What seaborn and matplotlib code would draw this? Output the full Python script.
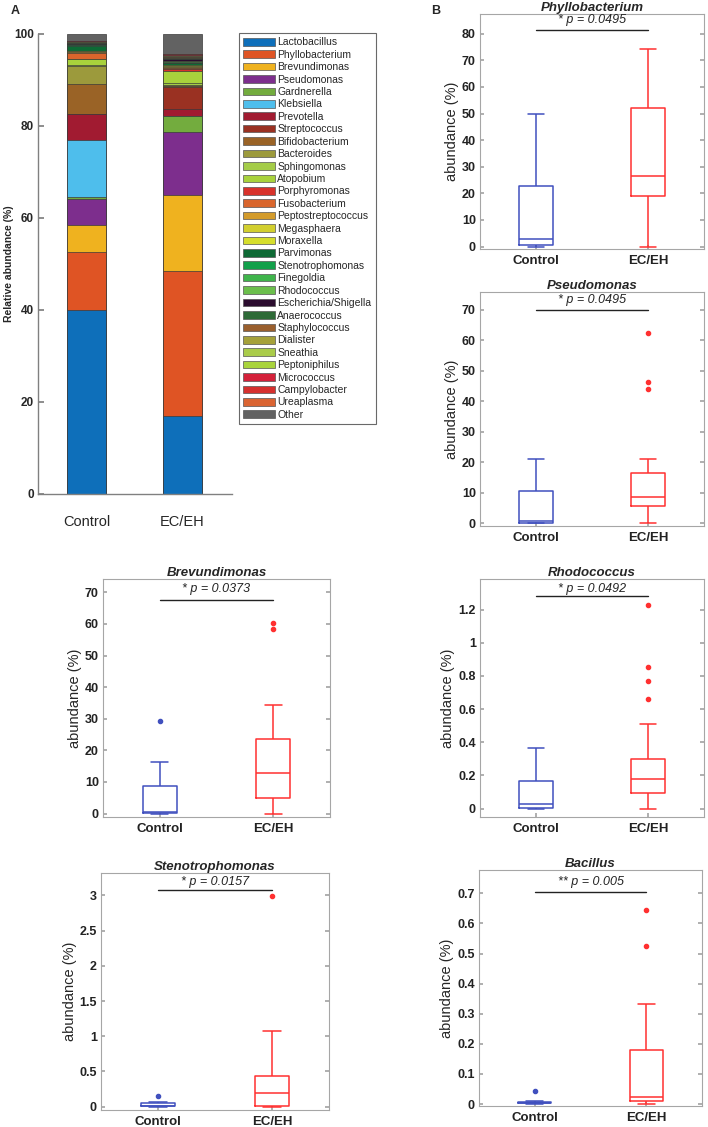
import numpy as np
import pandas as pd
import seaborn as sns
import matplotlib.pyplot as plt
from matplotlib.patches import Patch
from matplotlib.ticker import FuncFormatter

groups = ["Control", "EC/EH"]

genera = ["Lactobacillus", "Phyllobacterium", "Brevundimonas", "Pseudomonas",
          "Gardnerella", "Klebsiella", "Prevotella", "Streptococcus",
          "Bifidobacterium", "Bacteroides", "Sphingomonas", "Atopobium",
          "Porphyromonas", "Fusobacterium", "Peptostreptococcus", "Megasphaera",
          "Moraxella", "Parvimonas", "Stenotrophomonas", "Finegoldia",
          "Rhodococcus", "Escherichia/Shigella", "Anaerococcus", "Staphylococcus",
          "Dialister", "Sneathia", "Peptoniphilus", "Micrococcus",
          "Campylobacter", "Ureaplasma", "Other"]

genus_colors = ["#0E6FBA", "#DF5424", "#EFB21F", "#7D2E8D", "#73AC3E",
                "#4EBEEC", "#A11B31", "#9A3122", "#9A6326", "#9C9A3C",
                "#A4CC48", "#A8D23C", "#D8322B", "#D9652C", "#D39B2B",
                "#D2CF2E", "#D6DE2C", "#0E6A35", "#12A04A", "#3FB54B",
                "#6BBF4C", "#2B0C2E", "#2E6A37", "#9A5F2D", "#A5A13A",
                "#AACC4A", "#A9D43B", "#D4213A", "#D6302E", "#DA6432",
                "#626262"]

control_abund = [39.9, 12.6, 6.0, 5.6, 0.4, 12.4, 5.6, 0.1, 6.5, 4.0,
                 0.2, 1.2, 0.1, 1.2, 0.3, 0.1, 0.2, 1.1, 0.05, 0.05,
                 0.05, 0.2, 0.1, 0.1, 0.2, 0.05, 0.05, 0.05, 0.05, 0.05, 1.5]
ecen_abund = [17.0, 31.5, 16.4, 13.7, 3.6, 0.0, 1.4, 4.8, 0.2, 0.3,
              0.4, 2.6, 0.5, 0.2, 0.3, 0.2, 0.2, 0.3, 0.2, 0.2,
              0.2, 0.4, 0.2, 0.2, 0.1, 0.1, 0.1, 0.2, 0.1, 0.1, 4.3]

# box plot samples (whisker ends, quartiles, median, outliers)
phyllo_ctrl = [0.0, 0.5, 2.9, 22.9, 49.8]
phyllo_ec = [0.0, 19.0, 26.5, 52.0, 74.2]
pseudo_ctrl = [0.0, 0.2, 0.9, 10.6, 21.0]
pseudo_ec = [0.1, 1.5, 3.0, 4.5, 5.5, 6.5, 7.5, 8.0, 8.6, 10.0, 12.0, 14.0,
             16.4, 21.0, 44.2, 46.2, 62.6]
brevun_ctrl = [0.0, 0.1, 0.2, 0.3, 0.5, 4.0, 8.8, 16.3, 29.3]
brevun_ec = [0.0, 1.5, 3.0, 4.8, 8.0, 10.5, 12.7, 16.0, 20.0, 23.5, 34.3, 58.5, 60.3]
rhodo_ctrl = [0.0, 0.002, 0.026, 0.167, 0.367]
rhodo_ec = [0.0, 0.02, 0.04, 0.06, 0.08, 0.093, 0.11, 0.13, 0.15, 0.165, 0.177,
            0.2, 0.23, 0.26, 0.28, 0.299, 0.508, 0.662, 0.772, 0.857, 1.23]
steno_ctrl = [0.0, 0.003, 0.005, 0.008, 0.012, 0.03, 0.057, 0.072, 0.145]
steno_ec = [0.0, 0.005, 0.014, 0.1, 0.199, 0.3, 0.44, 1.07, 2.986]
bacil_ctrl = [0.0, 0.001, 0.002, 0.003, 0.004, 0.005, 0.007, 0.011, 0.043]
bacil_ec = [0.0, 0.004, 0.008, 0.011, 0.015, 0.02, 0.024, 0.06, 0.12, 0.178,
            0.332, 0.526, 0.643]

box_titles = ["Phyllobacterium", "Pseudomonas", "Brevundimonas",
              "Rhodococcus", "Stenotrophomonas", "Bacillus"]
p_labels = ["* p = 0.0495", "* p = 0.0495", "* p = 0.0373",
            "* p = 0.0492", "* p = 0.0157", "** p = 0.005"]

sns.set_theme(style="white")
plt.rcParams["font.family"] = ["Liberation Sans", "DejaVu Sans"]

W, H = 708, 1127
fig = plt.figure(figsize=(W / 100, H / 100), dpi=100)


def px_axes(x0, y0, x1, y1):
    return fig.add_axes([x0 / W, 1 - y1 / H, (x1 - x0) / W, (y1 - y0) / H])


# ---- panel A: stacked bars ----
axA = px_axes(38, 34, 232, 494)
cum = np.cumsum(np.array([control_abund, ecen_abund]), axis=1)
for i in reversed(range(len(genera))):
    layer = pd.DataFrame({"group": groups, "value": cum[:, i]})
    sns.barplot(data=layer, x="group", y="value", color=genus_colors[i],
                saturation=1, width=0.405, errorbar=None,
                edgecolor="#3a3a3a", linewidth=0.5, ax=axA)
axA.set_xlim(-0.505, 1.515)
axA.set_ylim(0, 100)
axA.set_yticks(range(0, 101, 20))
axA.set_xlabel("")
axA.set_ylabel("Relative abundance (%)", fontsize=7.5, fontweight="bold")
axA.yaxis.set_label_coords(-0.125, 0.5)
for s in ["top", "right"]:
    axA.spines[s].set_visible(False)
for s in ["left", "bottom"]:
    axA.spines[s].set_color("#808080")
    axA.spines[s].set_linewidth(1.0)
axA.tick_params(axis="y", direction="in", length=4, color="#808080",
                labelsize=8.5, pad=3, left=True)
axA.tick_params(axis="x", length=0, labelsize=10.5, pad=15)
for lab in axA.get_yticklabels():
    lab.set_fontweight("bold")

handles = [Patch(facecolor=c, edgecolor="#555555", linewidth=0.5) for c in genus_colors]
leg = fig.legend(handles, genera, loc="upper left",
                 bbox_to_anchor=(239 / W, 1 - 33 / H), fontsize=7.5,
                 frameon=True, fancybox=False, edgecolor="#444444",
                 handlelength=3.0, handleheight=0.75, labelspacing=0.232,
                 handletextpad=0.25, borderpad=0.42, borderaxespad=0)
leg.get_frame().set_linewidth(0.8)

# ---- panel B: box plots ----
box_data = [(phyllo_ctrl, phyllo_ec), (pseudo_ctrl, pseudo_ec),
            (brevun_ctrl, brevun_ec), (rhodo_ctrl, rhodo_ec),
            (steno_ctrl, steno_ec), (bacil_ctrl, bacil_ec)]
frames = [(480, 14, 704, 249), (480, 292, 704, 526), (103, 579, 330, 817),
          (480, 579, 704, 817), (101, 873, 329, 1110), (479, 870, 702, 1106)]
ylims = [(-0.9, 87.4), (-0.9, 75.9), (-1.08, 74.2), (-0.051, 1.385),
         (-0.047, 3.318), (-0.0066, 0.7775)]
ytick_sets = [np.arange(0, 81, 10), np.arange(0, 71, 10), np.arange(0, 71, 10),
              np.arange(0, 1.21, 0.2), np.arange(0, 3.01, 0.5), np.arange(0, 0.71, 0.1)]
bar_ys = [81.4, 69.9, 67.4, 1.28, 3.08, 0.703]
text_ys = [85.1, 73.3, 71.1, 1.325, 3.19, 0.739]

pal = {"Control": "#4050BE", "EC/EH": "#FF3030"}

for k in range(6):
    ax = px_axes(*frames[k])
    ctrl, ec = box_data[k]
    df = pd.DataFrame({"group": ["Control"] * len(ctrl) + ["EC/EH"] * len(ec),
                       "value": ctrl + ec})
    sns.boxplot(data=df, x="group", y="value", hue="group", palette=pal,
                fill=False, width=0.3, whis=1.5, linewidth=1.1, legend=False,
                flierprops=dict(marker="o", markersize=3), ax=ax)
    for ln in ax.lines:
        if ln.get_marker() == "o":
            ln.set_markerfacecolor(ln.get_markeredgecolor())
    ax.set_xlim(-0.5, 1.5)
    ax.set_ylim(*ylims[k])
    ax.set_yticks(ytick_sets[k])
    ax.yaxis.set_major_formatter(FuncFormatter(lambda v, _: f"{v:g}"))
    ax.plot([0, 1], [bar_ys[k], bar_ys[k]], color="#222222", lw=1.0)
    ax.text(0.5, text_ys[k], p_labels[k], ha="center", va="center",
            style="italic", fontsize=9, color="#222222")
    ax.set_title(box_titles[k], fontsize=9.5, fontweight="bold", style="italic",
                 pad=2.5)
    ax.set_xlabel("")
    ax.set_ylabel("abundance (%)", fontsize=10.5, labelpad=2)
    for s in ax.spines.values():
        s.set_visible(True)
        s.set_color("#A6A6A6")
        s.set_linewidth(0.8)
    ax.tick_params(axis="y", direction="in", length=3, color="#A6A6A6",
                   left=True, right=True, labelsize=9, pad=3)
    ax.tick_params(axis="x", direction="in", length=3, color="#A6A6A6",
                   bottom=True, labelsize=9.5, pad=4)
    for lab in ax.get_yticklabels() + ax.get_xticklabels():
        lab.set_fontweight("bold")
        lab.set_color("#222222")

fig.text(15 / W, 1 - 11 / H, "A", fontsize=9, fontweight="bold", ha="center", va="center")
fig.text(436 / W, 1 - 11 / H, "B", fontsize=9, fontweight="bold", ha="center", va="center")

fig.savefig("out.png", dpi=100)
